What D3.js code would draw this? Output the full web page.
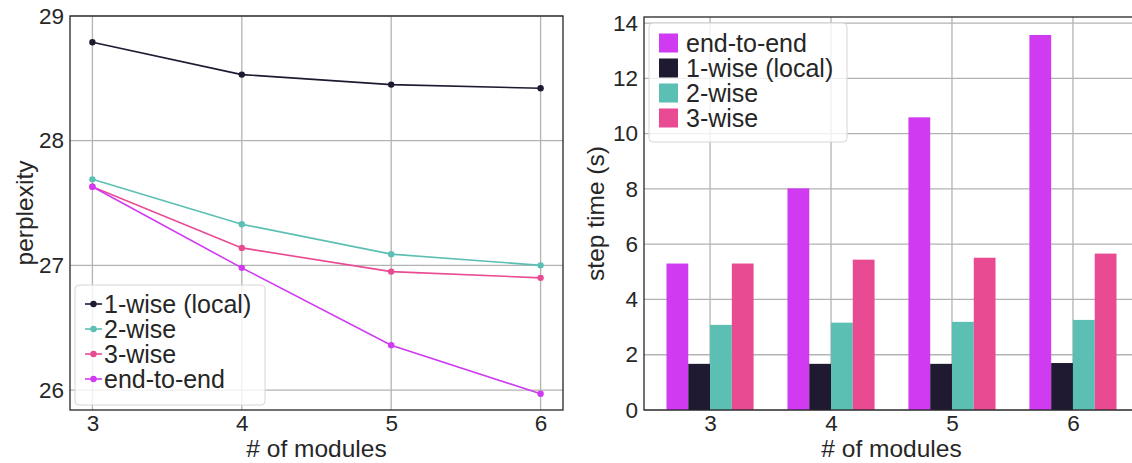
<!DOCTYPE html>
<html>
<head>
<meta charset="utf-8">
<script src="https://cdn.jsdelivr.net/npm/d3@7"></script>
<style>
  html, body { margin: 0; padding: 0; background: #fff; }
  svg text { font-family: "Liberation Sans", Arial, sans-serif; fill: #262626; }
</style>
</head>
<body>
<svg id="chart" width="1132" height="463"></svg>
<script>
// ---------- data ----------
const modules = [3, 4, 5, 6];

// left panel: perplexity
const pplSeries = ["1-wise (local)", "2-wise", "3-wise", "end-to-end"];
const ppl1wise = [28.79, 28.53, 28.45, 28.42];
const ppl2wise = [27.69, 27.33, 27.09, 27.00];
const ppl3wise = [27.63, 27.14, 26.95, 26.90];
const pplE2E   = [27.63, 26.98, 26.36, 25.97];
const pplTicks = [26, 27, 28, 29];

// right panel: step time
const timeSeries = ["end-to-end", "1-wise (local)", "2-wise", "3-wise"];
const timeE2E   = [5.30, 8.02, 10.59, 13.57];
const time1wise = [1.67, 1.67, 1.67, 1.70];
const time2wise = [3.08, 3.16, 3.19, 3.26];
const time3wise = [5.30, 5.44, 5.51, 5.66];
const timeTicks = [0, 2, 4, 6, 8, 10, 12, 14];

const colors = {
  "end-to-end": "#d03bf2",
  "1-wise (local)": "#1f1a31",
  "2-wise": "#5bbfb4",
  "3-wise": "#e94b93"
};

const svg = d3.select("#chart");
const gridColor = "#b3b3b3";
const spineColor = "#262626";
const tickFont = 22.5, labelFont = 24.5, legendFont = 25;

function styleTicks(sel) {
  sel.select(".domain").remove();
  sel.selectAll("text").attr("font-size", tickFont)
    .style("font-family", "Liberation Sans, Arial, sans-serif").attr("fill", "#262626");
}

// ---------- left panel ----------
{
  const L = 70, R = 563, T = 16, B = 410;
  const x = d3.scaleLinear().domain([2.85, 6.15]).range([L, R]);
  const y = d3.scaleLinear().domain([25.84, 29.0]).range([B, T]);
  const g = svg.append("g");

  g.selectAll(".vg").data(modules).join("line")
    .attr("x1", d => x(d)).attr("x2", d => x(d)).attr("y1", T).attr("y2", B)
    .attr("stroke", gridColor).attr("stroke-width", 1.3);
  g.selectAll(".hg").data(pplTicks).join("line")
    .attr("x1", L).attr("x2", R).attr("y1", d => y(d)).attr("y2", d => y(d))
    .attr("stroke", gridColor).attr("stroke-width", 1.3);

  styleTicks(g.append("g").attr("transform", `translate(0,${B})`)
    .call(d3.axisBottom(x).tickValues(modules).tickSize(0).tickPadding(5).tickFormat(d3.format("d"))));
  styleTicks(g.append("g").attr("transform", `translate(${L},0)`)
    .call(d3.axisLeft(y).tickValues(pplTicks).tickSize(0).tickPadding(6).tickFormat(d3.format("d"))));

  const seriesData = [
    { name: "1-wise (local)", values: ppl1wise },
    { name: "2-wise", values: ppl2wise },
    { name: "3-wise", values: ppl3wise },
    { name: "end-to-end", values: pplE2E }
  ];
  const line = d3.line().x((d, i) => x(modules[i])).y(d => y(d));
  seriesData.forEach(s => {
    g.append("path").datum(s.values).attr("d", line)
      .attr("fill", "none").attr("stroke", colors[s.name]).attr("stroke-width", 1.6);
    g.selectAll(null).data(s.values).join("circle")
      .attr("cx", (d, i) => x(modules[i])).attr("cy", d => y(d)).attr("r", 3.2)
      .attr("fill", colors[s.name]);
  });

  g.append("rect").attr("x", L).attr("y", T).attr("width", R - L).attr("height", B - T)
    .attr("fill", "none").attr("stroke", spineColor).attr("stroke-width", 1.3);

  g.append("text").attr("x", (L + R) / 2).attr("y", 457).attr("text-anchor", "middle")
    .attr("font-size", labelFont).text("# of modules");
  g.append("text").attr("transform", `translate(33,${(T + B) / 2}) rotate(-90)`)
    .attr("text-anchor", "middle").attr("font-size", labelFont).text("perplexity");

  const lg = g.append("g");
  lg.append("rect").attr("x", 75).attr("y", 285).attr("width", 190).attr("height", 120)
    .attr("rx", 4).attr("fill", "#fff").attr("fill-opacity", 0.8)
    .attr("stroke", "#d6d6d6").attr("stroke-width", 1);
  pplSeries.forEach((name, i) => {
    const cy = 304 + i * 25;
    lg.append("line").attr("x1", 85).attr("x2", 102).attr("y1", cy).attr("y2", cy)
      .attr("stroke", colors[name]).attr("stroke-width", 1.6);
    lg.append("circle").attr("cx", 93.5).attr("cy", cy).attr("r", 3.2).attr("fill", colors[name]);
    lg.append("text").attr("x", 104).attr("y", cy).attr("dy", "0.35em")
      .attr("font-size", legendFont).text(name);
  });
}

// ---------- right panel ----------
{
  const L = 644, R = 1139, T = 17, B = 410;
  const x = d3.scaleLinear().domain([2.454, 6.546]).range([L, R]);
  const y = d3.scaleLinear().domain([0, 14.22]).range([B, T]);
  const g = svg.append("g");
  const barW = 0.18;

  g.selectAll(".vg").data(modules).join("line")
    .attr("x1", d => x(d)).attr("x2", d => x(d)).attr("y1", T).attr("y2", B)
    .attr("stroke", gridColor).attr("stroke-width", 1.3);
  g.selectAll(".hg").data(timeTicks).join("line")
    .attr("x1", L).attr("x2", R).attr("y1", d => y(d)).attr("y2", d => y(d))
    .attr("stroke", gridColor).attr("stroke-width", 1.3);

  styleTicks(g.append("g").attr("transform", `translate(0,${B})`)
    .call(d3.axisBottom(x).tickValues(modules).tickSize(0).tickPadding(5).tickFormat(d3.format("d"))));
  styleTicks(g.append("g").attr("transform", `translate(${L},0)`)
    .call(d3.axisLeft(y).tickValues(timeTicks).tickSize(0).tickPadding(6).tickFormat(d3.format("d"))));

  const seriesData = [
    { name: "end-to-end", values: timeE2E },
    { name: "1-wise (local)", values: time1wise },
    { name: "2-wise", values: time2wise },
    { name: "3-wise", values: time3wise }
  ];
  seriesData.forEach((s, k) => {
    const off = (k - 1.5) * barW;
    g.selectAll(null).data(s.values).join("rect")
      .attr("x", (d, i) => x(modules[i] + off - barW / 2))
      .attr("width", x(barW) - x(0))
      .attr("y", d => y(d))
      .attr("height", d => y(0) - y(d))
      .attr("fill", colors[s.name]);
  });

  g.append("rect").attr("x", L).attr("y", T).attr("width", R - L).attr("height", B - T)
    .attr("fill", "none").attr("stroke", spineColor).attr("stroke-width", 1.3);

  g.append("text").attr("x", (L + R) / 2).attr("y", 457).attr("text-anchor", "middle")
    .attr("font-size", labelFont).text("# of modules");
  g.append("text").attr("transform", `translate(604,${(T + B) / 2}) rotate(-90)`)
    .attr("text-anchor", "middle").attr("font-size", labelFont).text("step time (s)");

  const lg = g.append("g");
  lg.append("rect").attr("x", 649).attr("y", 23).attr("width", 198).attr("height", 119)
    .attr("rx", 4).attr("fill", "#fff").attr("fill-opacity", 0.8)
    .attr("stroke", "#d6d6d6").attr("stroke-width", 1);
  timeSeries.forEach((name, i) => {
    const cy = 43 + i * 25;
    lg.append("rect").attr("x", 659).attr("y", cy - 9.5).attr("width", 19).attr("height", 19)
      .attr("fill", colors[name]);
    lg.append("text").attr("x", 686).attr("y", cy).attr("dy", "0.35em")
      .attr("font-size", legendFont).text(name);
  });
}
</script>
</body>
</html>
